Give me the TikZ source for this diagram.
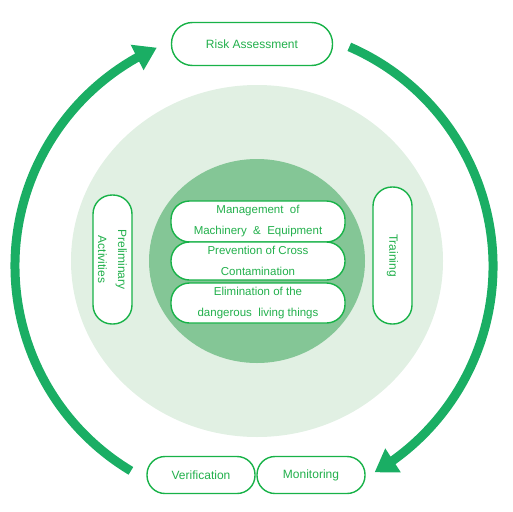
\documentclass[tikz,border=0pt]{standalone}
\usepackage{fontspec}
\setmainfont{Liberation Sans}
\usetikzlibrary{arrows.meta,bending}
\definecolor{arcgreen}{RGB}{26,174,100}
\definecolor{boxgreen}{RGB}{24,178,72}
\definecolor{txtgreen}{RGB}{34,176,76}
\definecolor{palegreen}{RGB}{225,240,227}
\definecolor{midgreen}{RGB}{132,198,150}

\begin{document}
\begin{tikzpicture}[x=1pt, y=-1pt,
    stage/.style={draw=boxgreen, line width=1.4pt, fill=white, text=txtgreen,
        align=center, inner sep=0pt, font=\fontsize{12}{20}\selectfont},
    flow/.style={arcgreen, line width=9pt, -{Triangle[length=22pt, width=27pt]}}]
    \useasboundingbox (0,0) rectangle (513,511);

    % 绘制背景圆
    \fill[palegreen] (257,261) ellipse[x radius=186, y radius=176];
    \fill[midgreen] (257,261) ellipse[x radius=108, y radius=102];

    % 绘制外圈步骤
    \node[stage, minimum width=161pt, minimum height=43pt, rounded corners=21pt] (risk) at (252,44) {Risk Assessment};
    \node[stage, minimum width=108pt, minimum height=37pt, rounded corners=18pt] (verif) at (201,475) {Verification};
    \node[stage, minimum width=108pt, minimum height=37pt, rounded corners=18pt] (monit) at (311,475) {Monitoring};

    % 绘制左右竖直步骤
    \node[stage, rotate=-90, minimum width=129pt, minimum height=39pt, rounded corners=19pt] (prelim) at (112.5,259.5) {Preliminary\\Activities};
    \node[stage, rotate=-90, minimum width=137pt, minimum height=39pt, rounded corners=19pt] (train) at (392.5,255.5) {Training};

    % 绘制中心三项
    \foreach \n/\y/\h/\t in {
        mach/221.5/41/{Management~~of\\Machinery~~\&~~Equipment},
        cross/261/38/{Prevention of Cross\\Contamination},
        pest/303/40/{Elimination of the\\dangerous~~living things}%
    } {
        \node[stage, font=\fontsize{11.5}{21}\selectfont, minimum width=174pt, minimum height=\h pt, rounded corners=18.5pt] (\n) at (258,\y) {\t};
    }

    % 绘制循环箭头
    \coordinate (hub) at (254,266);
    \draw[flow] ([shift={(-66.5:239)}]hub) arc[start angle=-66.5, end angle=59.7, radius=239];
    \draw[flow] ([shift={(-239:239)}]hub) arc[start angle=-239, end angle=-114, radius=239];

\end{tikzpicture}
\end{document}
